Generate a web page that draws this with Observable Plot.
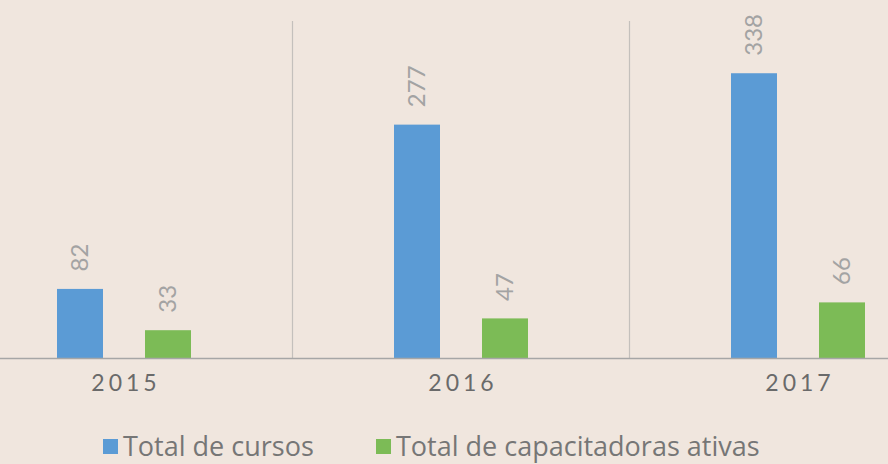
<!DOCTYPE html>
<html>
<head>
<meta charset="utf-8">
<script src="https://cdn.jsdelivr.net/npm/d3@7"></script>
<script src="https://cdn.jsdelivr.net/npm/@observablehq/plot@0.6"></script>
<style>
  html, body { margin: 0; padding: 0; background: #f0e6de; }
  body { width: 888px; height: 464px; overflow: hidden; font-family: "Open Sans", sans-serif; }
  #legend { position: relative; height: 54px; color: #767676; font-size: 27px; }
  .item { position: absolute; top: 21px; display: flex; align-items: center; white-space: nowrap; line-height: 1.1; }
  .sw { width: 15px; height: 15px; margin-right: 5px; margin-top: 2px; }
</style>
</head>
<body>
<div id="chart"></div>
<div id="legend"></div>
<script>
const years = ["2015", "2016", "2017"];
const seriesNames = ["Total de cursos", "Total de capacitadoras ativas"];
const cursos = [82, 277, 338];
const capacitadoras = [33, 47, 66];
const colors = ["#5b9bd5", "#7cbb56"];

const data = [];
years.forEach((y, i) => {
  data.push({year: y, series: seriesNames[0], value: cursos[i]});
  data.push({year: y, series: seriesNames[1], value: capacitadoras[i]});
});

const plot = Plot.plot({
  width: 888,
  height: 410,
  marginLeft: 0,
  marginRight: 0,
  marginTop: 21,
  marginBottom: 52,
  style: {background: "transparent", overflow: "visible"},
  fx: {domain: years, range: [-45.5, 965.5], padding: 0, axis: null, label: null},
  x: {domain: seriesNames, range: [102, 236], paddingInner: 0.4773, paddingOuter: 0, axis: null, label: null},
  y: {domain: [0, 400], axis: null, label: null},
  color: {domain: seriesNames, range: colors},
  marks: [
    Plot.frame({anchor: "right", stroke: "#c4c0bc", strokeWidth: 1.2}),
    Plot.barY(data, {fx: "year", x: "series", y: "value", fill: "series"}),
    Plot.ruleY([0], {stroke: "#a6a6a6", strokeWidth: 1.5}),
    Plot.text(data, {fx: "year", x: "series", y: "value", text: d => String(d.value),
      rotate: -90, textAnchor: "start", dy: -18, fill: "#a3a3a3",
      fontSize: 24, fontWeight: 400, fontFamily: "Lato, Open Sans, sans-serif"}),
    Plot.text(years, {fx: d => d, text: d => d, frameAnchor: "bottom", dy: 32, dx: 2,
      fill: "#6a6a6a", fontSize: 23, fontWeight: 400, fontFamily: "Lato, DejaVu Sans, sans-serif"})
  ]
});
document.getElementById("chart").appendChild(plot);

// year label letter spacing
plot.querySelectorAll("text").forEach(t => {
  if (years.includes(t.textContent)) t.setAttribute("letter-spacing", "4");
});

const legend = document.getElementById("legend");
const lefts = [103, 376];
seriesNames.forEach((s, i) => {
  const it = document.createElement("div");
  it.className = "item";
  it.style.left = lefts[i] + "px";
  const sw = document.createElement("div");
  sw.className = "sw";
  sw.style.background = colors[i];
  const tx = document.createElement("span");
  tx.textContent = s;
  it.appendChild(sw); it.appendChild(tx);
  legend.appendChild(it);
});
</script>
</body>
</html>
